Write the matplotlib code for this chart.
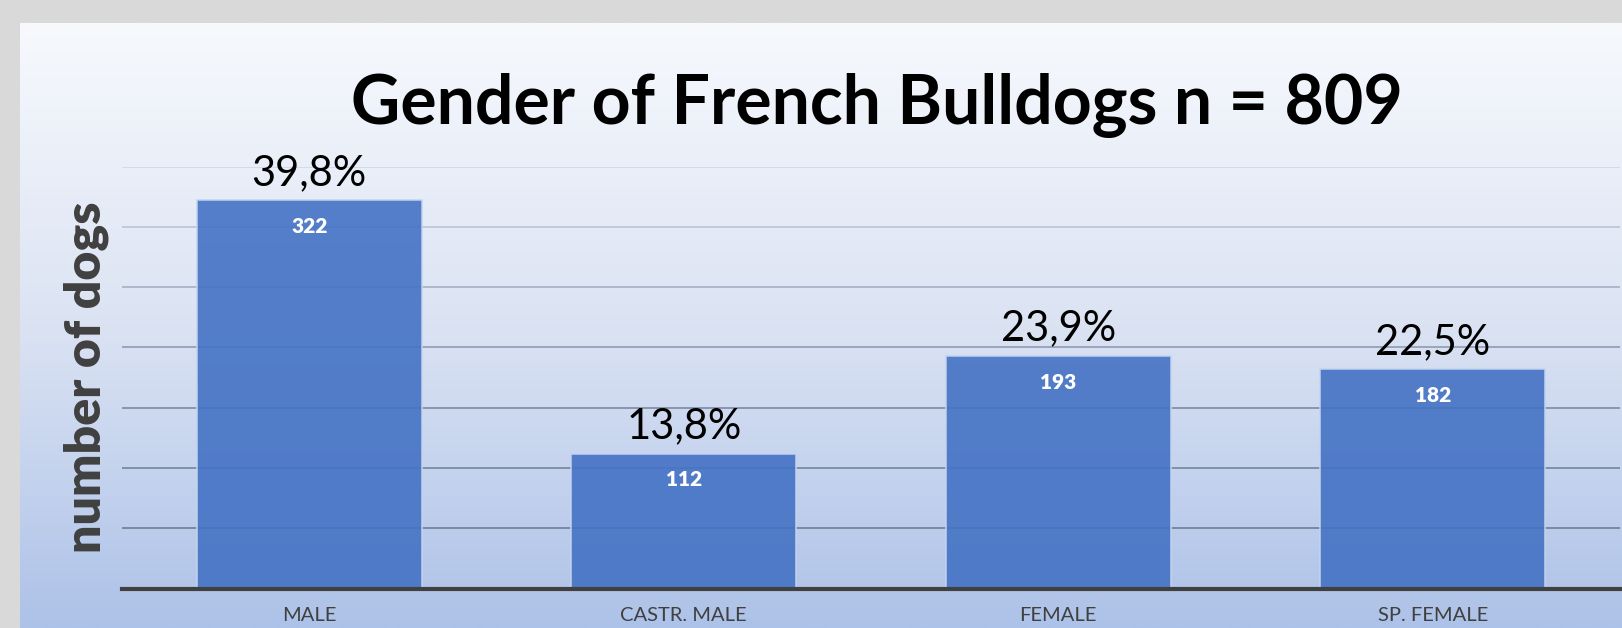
import numpy as np
import matplotlib.pyplot as plt
from matplotlib.colors import LinearSegmentedColormap

# data
categories = ['MALE', 'CASTR. MALE', 'FEMALE', 'SP. FEMALE']
dogs = [322, 112, 193, 182]
percent_labels = ['39,8%', '13,8%', '23,9%', '22,5%']
title = 'Gender of French Bulldogs n = 809'
y_ticks = [0, 50, 100, 150, 200, 250, 300, 350]

FONT = 'Lato'


def main():
    fig = plt.figure(figsize=(16.22, 6.28), dpi=100)
    fig.patch.set_facecolor('#d9d9d9')

    # gradient panel behind the chart
    bg = fig.add_axes([0, 0, 1, 1], zorder=-10)
    bg.set_xlim(0, 1622)
    bg.set_ylim(628, 0)
    bg.axis('off')
    grad = LinearSegmentedColormap.from_list('bg', ['#f7f9fd', '#dbe3f3', '#adc2e8'])
    bg.imshow(np.linspace(0, 1, 256).reshape(-1, 1), cmap=grad, aspect='auto',
              extent=[20, 1622, 628, 23])

    ax = fig.add_axes([122 / 1622, (628 - 588.6) / 628, 1498 / 1622, (588.6 - 166.5) / 628])
    ax.patch.set_alpha(0)
    x = np.arange(len(categories))
    bars = ax.bar(x, dogs, 0.6, color='#4472c4', alpha=0.9, edgecolor='#c5d3ee',
                  linewidth=1.2, zorder=3)

    ax.set_xlim(-0.5, len(categories) - 0.5)
    ax.set_ylim(0, 350)
    ax.set_yticks(y_ticks)
    ax.tick_params(axis='y', length=0, labelleft=False)
    ax.tick_params(axis='x', length=0, pad=13, labelsize=14.5, labelcolor='#404040')
    ax.set_xticks(x)
    ax.set_xticklabels(categories, family=FONT)

    ax.grid(axis='y', linewidth=1.2, zorder=0)
    grid_cols = ['#6f7d96', '#6f7d96', '#75839b', '#7d8aa2', '#8f9bb0', '#a5afc2', '#bcc3d2', '#d2d7e2']
    for line, col in zip(ax.get_ygridlines(), grid_cols):
        line.set_color(col)

    for side in ['top', 'right', 'left']:
        ax.spines[side].set_visible(False)
    ax.spines['bottom'].set_color('#404040')
    ax.spines['bottom'].set_linewidth(3)
    ax.spines['bottom'].set_zorder(4)

    for bar, val, pct in zip(bars, dogs, percent_labels):
        cx = bar.get_x() + bar.get_width() / 2
        ax.annotate(pct, (cx, val), xytext=(0, 6), textcoords='offset points',
                    ha='center', va='bottom', fontsize=30, family=FONT,
                    color='black', annotation_clip=False)
        ax.annotate(str(val), (cx, val), xytext=(0, -19), textcoords='offset points',
                    ha='center', va='center', fontsize=15, family=FONT,
                    fontweight='heavy', color='white', zorder=5)

    ax.set_ylabel('number of dogs', fontsize=36, fontweight='heavy', family=FONT,
                  color='#404040')
    ax.yaxis.set_label_coords(-0.009, 0.5)

    fig.text(877 / 1622, 1 - 105 / 628, title, ha='center', va='center',
             fontsize=49, fontweight='bold', family=FONT, color='black')

    fig.savefig('out.png', dpi=100, facecolor=fig.get_facecolor())


if __name__ == "__main__":
    main()
